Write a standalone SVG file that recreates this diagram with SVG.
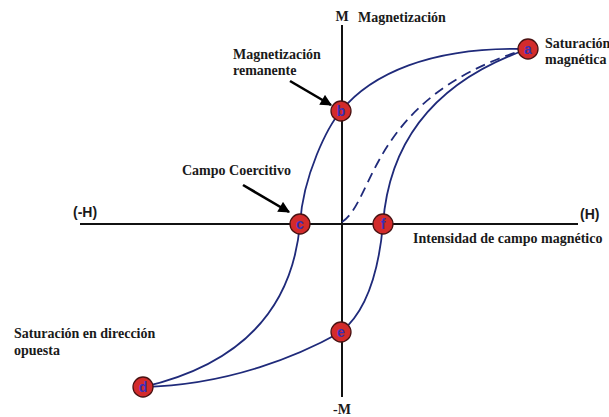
<svg xmlns="http://www.w3.org/2000/svg" width="609" height="417" viewBox="0 0 609 417">
<style>
.lbl{font-family:"Liberation Serif","Times New Roman",serif;font-weight:bold;font-size:14px;fill:#1a1a1a}
.ax{font-family:"Liberation Sans",Arial,sans-serif;font-weight:bold;font-size:14px;fill:#1a1a1a}
.axis{stroke:#111;stroke-width:2;fill:none}
.curve{stroke:#1f2a7a;stroke-width:1.8;fill:none}
.dash{stroke:#1f2a7a;stroke-width:1.8;fill:none;stroke-dasharray:10 6}
.pt{fill:#d32b2b;stroke:#4a1212;stroke-width:1.3}
.ptl{font-family:"Liberation Sans",Arial,sans-serif;font-weight:bold;font-size:14px;fill:#3a2fb5;text-anchor:middle}
.arr{stroke:#000;stroke-width:2.6;fill:none;marker-end:url(#ah)}
</style>
<defs>
<marker id="ah" viewBox="0 0 10 10" refX="9" refY="5" markerWidth="5" markerHeight="4.4" orient="auto" markerUnits="strokeWidth">
<path d="M0,0 L10,5 L0,10 z" fill="#000"/>
</marker>
</defs>
<rect width="609" height="417" fill="#fff"/>
<g id="axes">
<line class="axis" x1="342" y1="25" x2="342" y2="397"/>
<line class="axis" x1="80" y1="224" x2="578" y2="224"/>
<text class="lbl" x="342" y="21" text-anchor="middle">M</text>
<text class="lbl" x="342" y="414" text-anchor="middle">-M</text>
<text class="ax" x="73" y="217">(-H)</text>
<text class="ax" x="580" y="219">(H)</text>
</g>
<g id="connectors">
<path class="curve" d="M528,49 C430,46 370,75 341,111"/>
<path class="curve" d="M341,111 C328,126 303,175 300,224"/>
<path class="curve" d="M300,224 C294,290 260,360 143,387"/>
<path class="curve" d="M143,387 C230,385 300,355 341,332"/>
<path class="curve" d="M341,332 C362,315 378,280 383,224"/>
<path class="curve" d="M383,224 C387,170 410,90 528,49"/>
<path class="dash" d="M342,222 C375,200 370,100 520,51"/>
<path class="arr" d="M290,81 L331,105"/>
<path class="arr" d="M243,185 L289,212"/>
</g>
<g id="node-a"><circle class="pt" cx="528" cy="49" r="10"/><text class="ptl" x="528" y="54">a</text></g>
<g id="node-b"><circle class="pt" cx="341" cy="111" r="10"/><text class="ptl" x="341" y="116">b</text></g>
<g id="node-c"><circle class="pt" cx="300" cy="224" r="10"/><text class="ptl" x="300" y="229">c</text></g>
<g id="node-f"><circle class="pt" cx="383" cy="224" r="10"/><text class="ptl" x="383" y="229">f</text></g>
<g id="node-e"><circle class="pt" cx="341" cy="332" r="10"/><text class="ptl" x="341" y="337">e</text></g>
<g id="node-d"><circle class="pt" cx="143" cy="387" r="10"/><text class="ptl" x="143" y="392">d</text></g>
<g id="labels">
<text class="lbl" x="358" y="22">Magnetización</text>
<text class="lbl" x="545" y="48">Saturación</text>
<text class="lbl" x="545" y="64">magnética</text>
<text class="lbl" x="233" y="59">Magnetización</text>
<text class="lbl" x="233" y="75">remanente</text>
<text class="lbl" x="182" y="175">Campo Coercitivo</text>
<text class="lbl" x="413" y="243">Intensidad de campo magnético</text>
<text class="lbl" x="14" y="338">Saturación en dirección</text>
<text class="lbl" x="14" y="355">opuesta</text>
</g>
</svg>
